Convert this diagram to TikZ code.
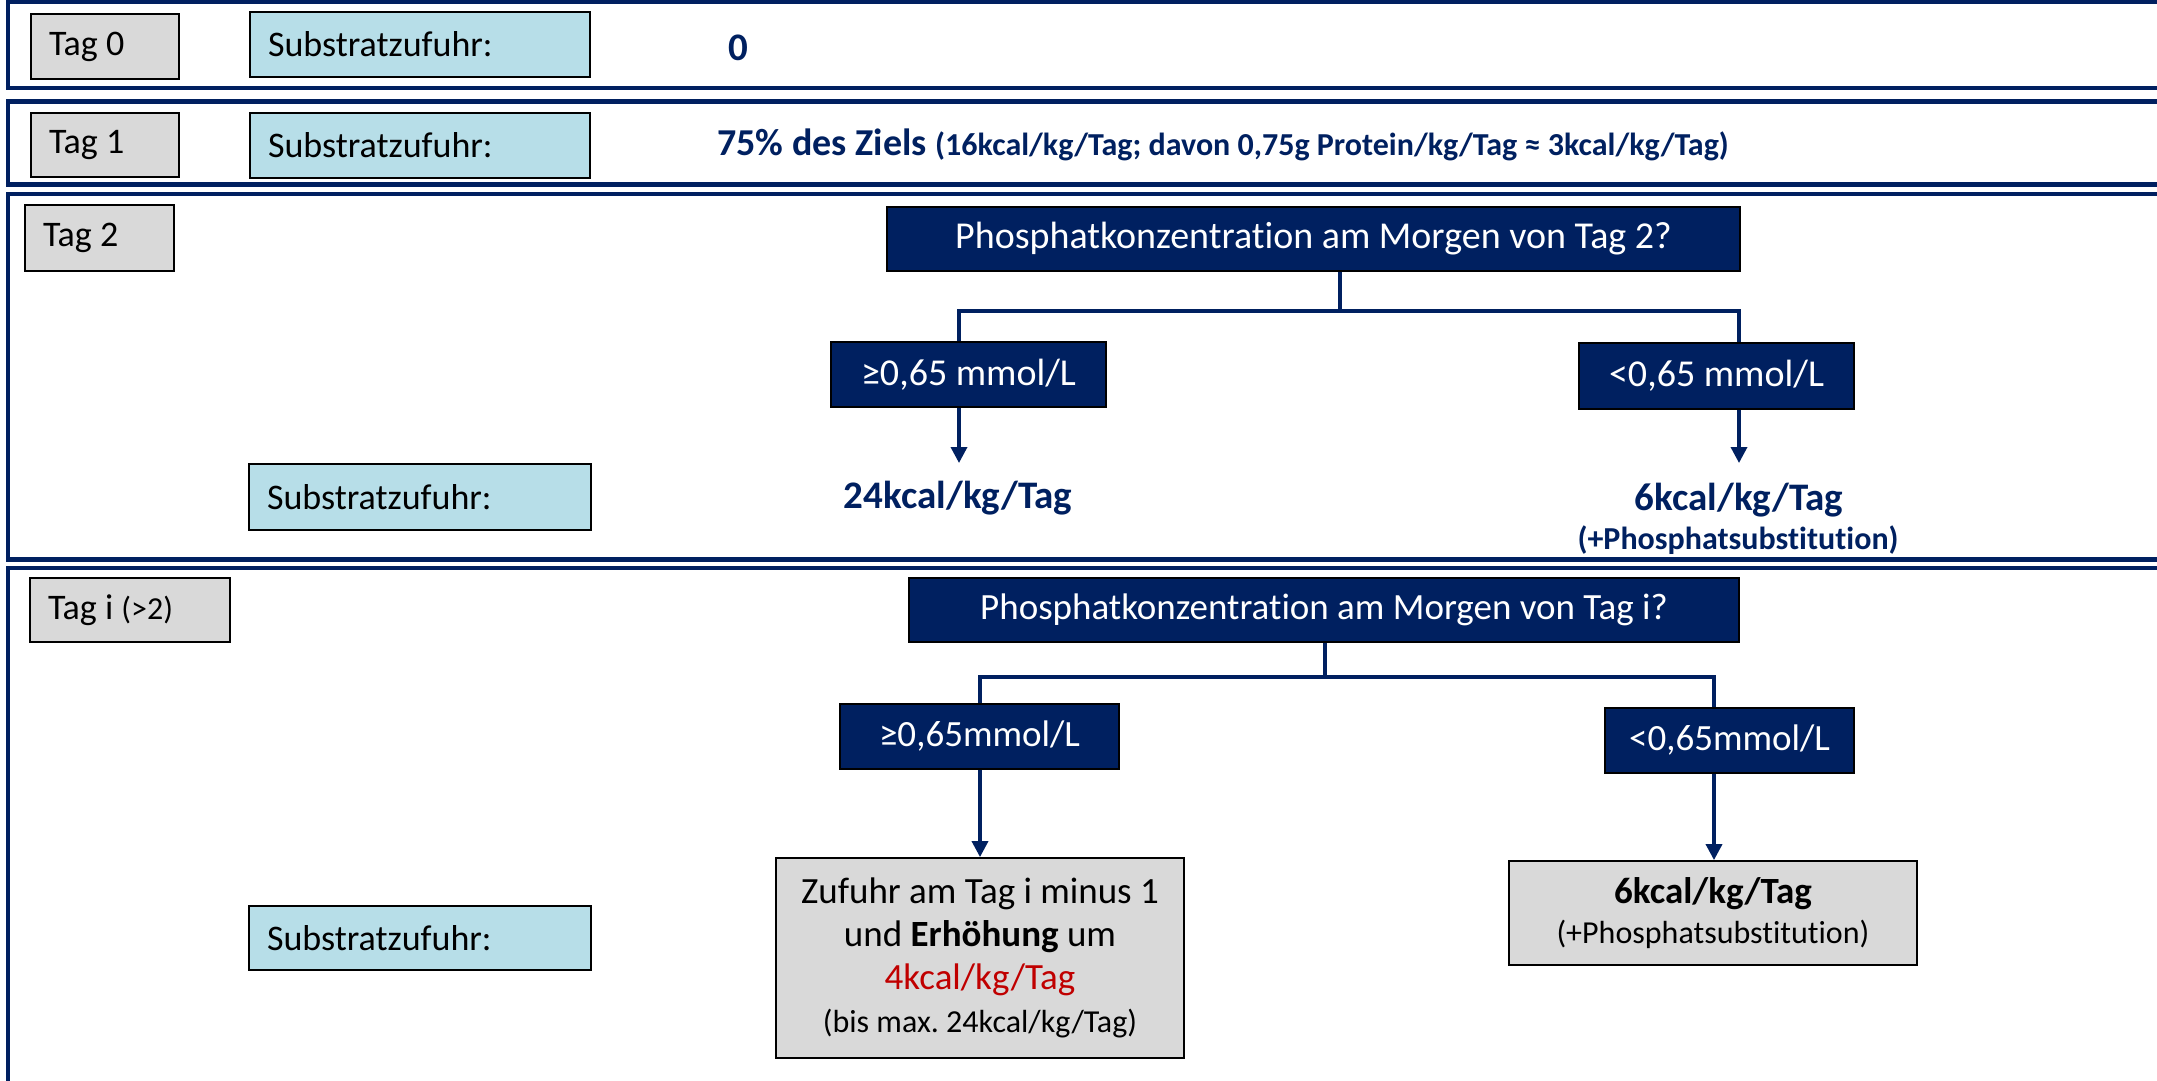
\documentclass[tikz,border=0pt]{standalone}
\usepackage{fontspec}
\setmainfont{Carlito}[Ligatures=NoCommon]
\usetikzlibrary{arrows.meta}
\definecolor{navy}{HTML}{002060}
\definecolor{lblue}{HTML}{B7DEE8}
\definecolor{lgray}{HTML}{D9D9D9}
\definecolor{dred}{HTML}{C00000}
\begin{document}
\frenchspacing
\begin{tikzpicture}[x=0.5pt,y=-0.5pt,
  frame/.style={draw=navy,line width=2.2pt},
  tagbox/.style={draw=black,fill=lgray,line width=0.9pt,inner xsep=9pt,inner ysep=0pt,align=flush left,
    execute at begin node={\spaceskip=0pt\xspaceskip=0pt\relax},font=\fontsize{18}{21.6}\selectfont},
  subbox/.style={draw=black,fill=lblue,line width=0.9pt,inner xsep=9pt,inner ysep=0pt,align=flush left,
    execute at begin node={\spaceskip=0pt\xspaceskip=0pt\relax},font=\fontsize{18}{21.6}\selectfont},
  qbox/.style={draw=black,fill=navy,text=white,line width=0.9pt,inner sep=0pt,align=center,font=\fontsize{19}{22}\selectfont},
  resbox/.style={draw=black,fill=lgray,line width=0.9pt,inner sep=0pt,align=center,font=\fontsize{18.5}{21.5}\selectfont},
  restext/.style={text=navy,inner sep=0pt,font=\fontsize{19.5}{23}\selectfont\bfseries},
  conn/.style={draw=navy,line width=1.75pt},
  arr/.style={conn,-{Triangle[length=8pt,width=8pt]}}
]
\useasboundingbox (0,0) rectangle (2157,1081);
% day frames
\draw[frame] (8,2) rectangle (2200,88);
\draw[frame] (8,101.5) rectangle (2200,184.5);
\draw[frame] (8,194) rectangle (2200,559.5);
\draw[frame] (8,568) rectangle (2200,1120);

% Tag 0
\node[tagbox,text width=56pt,minimum height=32.5pt] (t0) at (105,46.5) {Tag 0};
\node[subbox,text width=152pt,minimum height=32.5pt] (s0) at (420,44.5) {Substratzufuhr:};
\node[restext] (v0) at (738,48) {0};

% Tag 1
\node[tagbox,text width=56pt,minimum height=32pt] (t1) at (105,145) {Tag 1};
\node[subbox,text width=152pt,minimum height=32.5pt] (s1) at (420,145.5) {Substratzufuhr:};
\node[restext,font=\fontsize{19}{23}\selectfont\bfseries,anchor=west] (v1) at (717,145) {75\% des Ziels {\fontsize{16}{19}\selectfont (16kcal/kg/Tag; davon 0,75g Protein/kg/Tag ≈ 3kcal/kg/Tag)}};

% Tag 2
\node[tagbox,text width=56.5pt,minimum height=33pt] (t2) at (99.5,238) {Tag 2};
\node[subbox,text width=153pt,minimum height=33pt] (s2) at (420,497) {Substratzufuhr:};
\node[qbox,minimum width=426.5pt,minimum height=32pt] (p2) at (1313.5,239) {Phosphatkonzentration am Morgen von Tag 2?};
\node[qbox,minimum width=137.5pt,minimum height=32.5pt] (g2) at (968.5,374.5) {≥0,65 mmol/L};
\node[qbox,minimum width=137.5pt,minimum height=33pt] (l2) at (1716.5,376) {<0,65 mmol/L};
\node[restext] (r2a) at (958,498) {24kcal/kg/Tag};
\node[restext] (r2b) at (1739,500) {6kcal/kg/Tag};
\node[restext,font=\fontsize{16}{19}\selectfont\bfseries] (r2c) at (1738,540) {(+Phosphatsubstitution)};
\coordinate (j2) at (1340,311);
\coordinate (a2) at (959,311);
\coordinate (b2) at (1739,311);
\coordinate (e2a) at (959,463);
\coordinate (e2b) at (1739,463);
\draw[conn] (p2.south -| j2) -- (j2);
\draw[conn] (g2.north -| a2) -- (a2) -- (b2) -- (l2.north -| b2);
\draw[arr] (g2.south -| a2) -- (e2a);
\draw[arr] (l2.south -| b2) -- (e2b);

% Tag i
\node[tagbox,text width=82pt,minimum height=32pt] (ti) at (130,610) {Tag i {\fontsize{16}{19}\selectfont(>2)}};
\node[subbox,text width=153pt,minimum height=32pt] (si) at (420,938) {Substratzufuhr:};
\node[qbox,font=\fontsize{18.5}{22}\selectfont,minimum width=415pt,minimum height=32pt] (pi) at (1324,610) {Phosphatkonzentration am Morgen von Tag i?};
\node[qbox,font=\fontsize{18.5}{22}\selectfont,minimum width=139.5pt,minimum height=32.5pt] (gi) at (979.5,736.5) {≥0,65mmol/L};
\node[qbox,font=\fontsize{18.5}{22}\selectfont,minimum width=124.5pt,minimum height=32.5pt] (li) at (1729.5,740.5) {<0,65mmol/L};
\node[resbox,minimum width=204pt,minimum height=100pt] (zi) at (980,958) {Zufuhr am Tag i minus 1\\und \textbf{Erhöhung} um\\\textcolor{dred}{4kcal/kg/Tag}\\{\fontsize{16}{21.5}\selectfont(bis max. 24kcal/kg/Tag)}};
\node[resbox,minimum width=204pt,minimum height=52pt,font=\fontsize{18.5}{20}\selectfont] (ki) at (1713,913) {\textbf{6kcal/kg/Tag}\\{\fontsize{16}{20}\selectfont(+Phosphatsubstitution)}};
\coordinate (ji) at (1325,677);
\coordinate (ai) at (980,677);
\coordinate (bi) at (1714,677);
\draw[conn] (pi.south -| ji) -- (ji);
\draw[conn] (gi.north -| ai) -- (ai) -- (bi) -- (li.north -| bi);
\draw[arr] (gi.south -| ai) -- (zi.north -| ai);
\draw[arr] (li.south -| bi) -- (ki.north -| bi);
\end{tikzpicture}
\end{document}
